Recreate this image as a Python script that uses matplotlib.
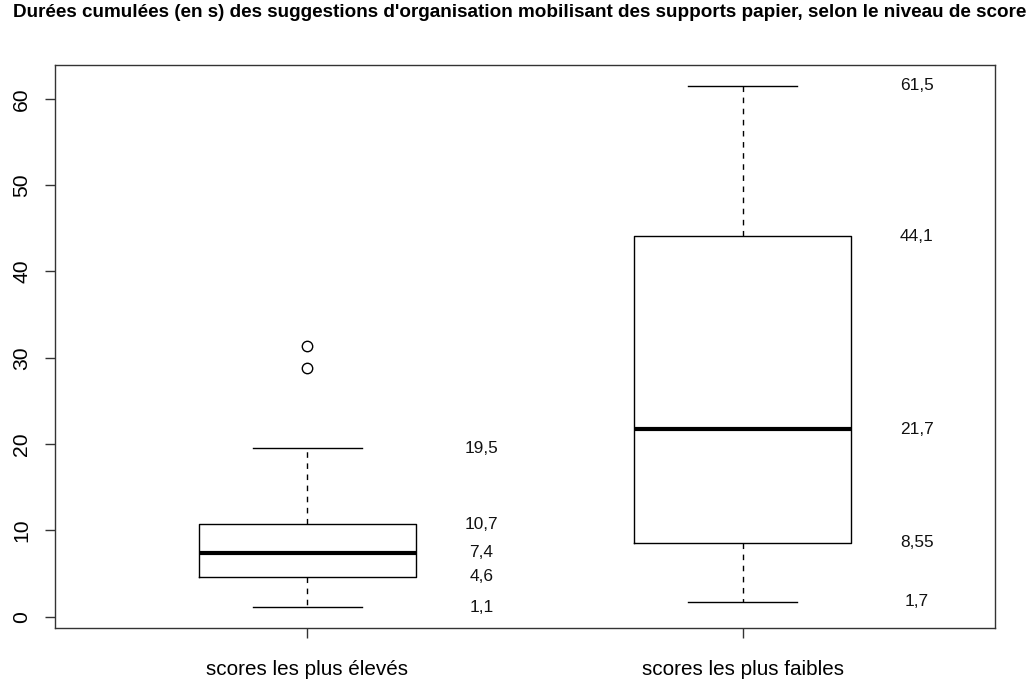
import matplotlib
matplotlib.use("Agg")
import matplotlib.pyplot as plt

plt.rcParams['font.family'] = ['Liberation Sans', 'DejaVu Sans']

groups = ["scores les plus élevés", "scores les plus faibles"]
whislo = [1.1, 1.7]
q1 = [4.6, 8.55]
med = [7.4, 21.7]
q3 = [10.7, 44.1]
whishi = [19.5, 61.5]
outliers = [[31.4, 28.8], []]
label_values = [[19.5, 10.7, 7.4, 4.6, 1.1], [61.5, 44.1, 21.7, 8.55, 1.7]]
label_texts = [["19,5", "10,7", "7,4", "4,6", "1,1"], ["61,5", "44,1", "21,7", "8,55", "1,7"]]
title = "Durées cumulées (en s) des suggestions d'organisation mobilisant des supports papier, selon le niveau de score"

fig = plt.figure(figsize=(10.33, 6.82), dpi=100)
ax = fig.add_axes([0.0532, 0.0792, 0.91, 0.8255])

stats = []
for i in range(len(groups)):
    stats.append(dict(whislo=whislo[i], q1=q1[i], med=med[i], q3=q3[i],
                      whishi=whishi[i], fliers=outliers[i], label=groups[i]))

positions = [1, 2]
ax.bxp(stats, positions=positions, widths=0.5, showfliers=True,
       boxprops=dict(color='black', linewidth=1),
       medianprops=dict(color='black', linewidth=3, solid_capstyle='butt'),
       whiskerprops=dict(color='black', linewidth=1, linestyle=(0, (4, 4))),
       capprops=dict(color='black', linewidth=1),
       capwidths=0.25,
       flierprops=dict(marker='o', markerfacecolor='none', markeredgecolor='black',
                       markersize=7.5, markeredgewidth=1))

for i, pos in enumerate(positions):
    for v, t in zip(label_values[i], label_texts[i]):
        ax.text(pos + 0.4, v, t, ha='center', va='center', fontsize=12.4, color='#111111')

ax.set_xlim(0.42, 2.58)
ax.set_ylim(-1.32, 63.92)
ax.set_yticks([0, 10, 20, 30, 40, 50, 60])
ax.set_yticklabels(['0', '10', '20', '30', '40', '50', '60'], rotation=90, va='center', fontsize=15.2)
ax.set_xticks(positions)
ax.set_xticklabels(groups, fontsize=14.9)
ax.tick_params(axis='both', length=7, width=1, color='#333333')
ax.tick_params(axis='y', pad=10)
ax.tick_params(axis='x', pad=16)
for s in ax.spines.values():
    s.set_color('#333333')
    s.set_linewidth(1)

fig.text(0.5035, 0.981, title, ha='center', va='center', fontsize=13.6, fontweight='bold')

fig.savefig('out.png', dpi=100, facecolor='white')
